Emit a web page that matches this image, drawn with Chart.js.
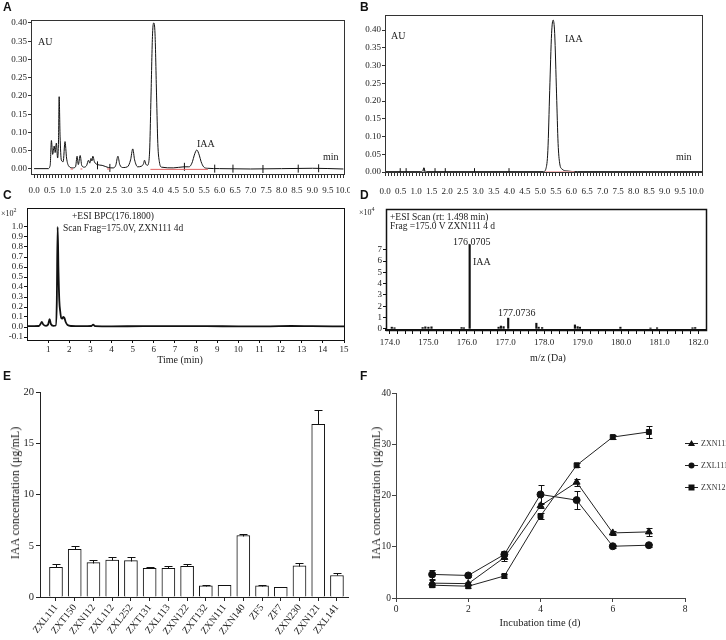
<!DOCTYPE html>
<html>
<head>
<meta charset="utf-8">
<script src="https://cdn.jsdelivr.net/npm/chart.js@4.4.1/dist/chart.umd.min.js"></script>
<style>
body{margin:0;width:726px;height:640px;position:relative;overflow:hidden;background:#fff}
canvas{position:absolute}
.t{position:absolute;font-family:"Liberation Serif",serif;white-space:nowrap;line-height:1;color:#222}
.t sup{font-size:6px}
.lt{position:absolute;font-family:"Liberation Sans",Arial,sans-serif;font-weight:bold;font-size:12px;line-height:12px;color:#111}
.mid{transform:translate(-50%,-50%)}
.rot{transform:translate(-50%,-50%) rotate(-90deg)}
</style>
</head>
<body>
<canvas id="cA" width="350" height="200" style="left:0;top:0"></canvas>
<canvas id="cB" width="371" height="200" style="left:355px;top:0"></canvas>
<canvas id="cC" width="352" height="180" style="left:0;top:195px"></canvas>
<canvas id="cD" width="371" height="180" style="left:355px;top:195px"></canvas>
<canvas id="cE" width="355" height="260" style="left:0;top:380px"></canvas>
<canvas id="cF" width="363" height="260" style="left:363px;top:380px"></canvas>

<div class="lt" style="left:3px;top:1px">A</div>
<div class="t" style="left:38px;top:37px;font-size:10px">AU</div>
<div class="t" style="left:197px;top:139px;font-size:10px">IAA</div>
<div class="t" style="left:323px;top:152px;font-size:10px">min</div>

<div class="lt" style="left:360px;top:1px">B</div>
<div class="t" style="left:391px;top:31px;font-size:10px">AU</div>
<div class="t" style="left:565px;top:34px;font-size:10px">IAA</div>
<div class="t" style="left:676px;top:152px;font-size:10px">min</div>

<div class="lt" style="left:3px;top:189px">C</div>
<div class="t" style="left:1px;top:207px;font-size:8px">×10<sup>2</sup></div>
<div class="t" style="left:72px;top:212px;font-size:9.5px">+ESI BPC(176.1800)</div>
<div class="t" style="left:63px;top:224px;font-size:9.5px">Scan Frag=175.0V, ZXN111 4d</div>
<div class="t mid" style="left:180px;top:360px;font-size:10px">Time (min)</div>

<div class="lt" style="left:360px;top:189px">D</div>
<div class="t" style="left:359px;top:206px;font-size:8px">×10<sup>4</sup></div>
<div class="t" style="left:390px;top:213px;font-size:9.5px">+ESI Scan (rt: 1.498 min)</div>
<div class="t" style="left:390px;top:222px;font-size:9.5px">Frag =175.0 V ZXN111 4 d</div>
<div class="t" style="left:453px;top:237px;font-size:10px">176.0705</div>
<div class="t" style="left:473px;top:257px;font-size:10px">IAA</div>
<div class="t" style="left:498px;top:308px;font-size:10px">177.0736</div>
<div class="t mid" style="left:548px;top:358px;font-size:10px">m/z (Da)</div>

<div class="lt" style="left:3px;top:370px">E</div>
<div class="t rot" style="left:15px;top:493px;font-size:12px">IAA concentration (μg/mL)</div>

<div class="lt" style="left:360px;top:370px">F</div>
<div class="t rot" style="left:376px;top:493px;font-size:12px">IAA concentration (μg/mL)</div>
<div class="t mid" style="left:540px;top:623px;font-size:10.5px">Incubation time (d)</div>

<script>
// A: HPLC trace of the culture extract
var aTime = [0, 0.45, 0.52, 0.56, 0.60, 0.65, 0.68, 0.72, 0.76, 0.79, 0.81, 0.84, 0.88, 0.94, 1.00, 1.05, 1.12, 1.25, 1.34, 1.39, 1.43, 1.49, 1.54, 1.62, 1.70, 1.76, 1.80, 1.84, 1.87, 1.90, 1.95, 2.05, 2.20, 2.40, 2.55, 2.64, 2.71, 2.77, 2.88, 3.02, 3.12, 3.19, 3.25, 3.35, 3.48, 3.54, 3.57, 3.61, 3.66, 3.70, 3.74, 3.78, 3.83, 3.87, 3.91, 3.96, 4.00, 4.05, 4.12, 4.50, 4.85, 5.00, 5.05, 5.12, 5.18, 5.26, 5.34, 5.40, 5.48, 5.60, 6.00, 7.00, 8.00, 9.00, 10.0];
var aAU = [0.001, 0.001, 0.010, 0.078, 0.040, 0.063, 0.045, 0.071, 0.030, 0.080, 0.198, 0.090, 0.025, 0.020, 0.075, 0.030, 0.008, 0.003, 0.006, 0.035, 0.012, 0.037, 0.010, 0.005, 0.010, 0.024, 0.016, 0.029, 0.022, 0.035, 0.020, 0.012, 0.010, 0.004, 0.003, 0.010, 0.035, 0.012, 0.004, 0.006, 0.025, 0.055, 0.025, 0.006, 0.008, 0.015, 0.024, 0.014, 0.010, 0.015, 0.060, 0.200, 0.370, 0.400, 0.370, 0.200, 0.070, 0.020, 0.005, 0.003, 0.006, 0.006, 0.008, 0.020, 0.038, 0.052, 0.038, 0.020, 0.006, 0.002, 0.001, 0.000, 0.001, 0.002, 0.000];
var aRedTime = [1.18, 1.26, 1.27, 1.50, 1.56, 1.57, 2.36, 2.46, 2.47, 3.76, 5.62];
var aRedAU = [0, 0, null, 0, 0, null, 0, 0, null, -0.001, -0.001];
var aMarkTime = [2.05, 2.45, 4.86, 5.84, 6.43, 7.40, 8.54, 9.20];
var aMarkAU = [0.010, 0.003, 0.006, 0.001, 0.001, 0.000, 0.001, 0.002];

// B: IAA standard
var bTime = [0, 1.15, 1.22, 1.25, 1.28, 1.35, 5.10, 5.18, 5.24, 5.30, 5.36, 5.41, 5.46, 5.52, 5.57, 5.62, 5.70, 5.85, 6.20, 10.2];
var bAU = [0.001, 0.001, 0.004, 0.012, 0.004, 0.001, 0.001, 0.010, 0.060, 0.230, 0.390, 0.428, 0.390, 0.220, 0.080, 0.025, 0.008, 0.003, 0.001, 0.001];
var bRedTime = [5.15, 6.10];
var bRedAU = [0, 0];
var bMarkTime = [0.49, 0.68, 1.26, 1.61, 1.94, 2.88, 3.99];
var bMarkAU = [0.001, 0.001, 0.001, 0.001, 0.001, 0.001, 0.001];

// C: base peak chromatogram (x10^2)
var cTime = [0, 0.55, 0.64, 0.70, 0.77, 0.90, 1.00, 1.07, 1.13, 1.25, 1.36, 1.41, 1.45, 1.49, 1.53, 1.57, 1.62, 1.67, 1.72, 1.77, 1.83, 1.92, 2.10, 2.60, 3.05, 3.13, 3.22, 4.00, 5.50, 7.00, 8.50, 10.0, 11.5, 12.5, 13.5, 15.0];
var cSignal = [0.008, 0.010, 0.030, 0.052, 0.025, 0.012, 0.025, 0.078, 0.030, 0.012, 0.015, 0.250, 1.000, 0.550, 0.260, 0.160, 0.090, 0.085, 0.100, 0.090, 0.050, 0.020, 0.010, 0.008, 0.010, 0.024, 0.009, 0.007, 0.008, 0.008, 0.009, 0.006, 0.007, 0.010, 0.008, 0.006];

// D: mass spectrum (x10^4)
var dMz = [174.05, 174.12, 174.85, 174.92, 175.00, 175.08, 175.86, 175.92, 176.07, 176.82, 176.88, 176.95, 177.07, 177.80, 177.86, 177.95, 178.80, 178.87, 178.93, 179.98, 180.76, 180.93, 181.85, 181.92];
var dIntensity = [0.15, 0.10, 0.12, 0.18, 0.15, 0.18, 0.12, 0.10, 7.45, 0.15, 0.25, 0.20, 0.95, 0.50, 0.15, 0.12, 0.35, 0.20, 0.15, 0.15, 0.08, 0.10, 0.10, 0.12];

// E: IAA produced by each strain
var eStrains = ['ZXL111', 'ZXT150', 'ZXN112', 'ZXL112', 'ZXL252', 'ZXT131', 'ZXL113', 'ZXN122', 'ZXT132', 'ZXN111', 'ZXN140', 'ZF5', 'ZF7', 'ZXN230', 'ZXN121', 'ZXL141'];
var eIAA = [2.9, 4.65, 3.35, 3.6, 3.55, 2.8, 2.8, 3.0, 1.1, 1.15, 6.0, 1.1, 0.95, 3.05, 16.85, 2.1];
var eErr = [0.35, 0.35, 0.3, 0.3, 0.4, 0.08, 0.2, 0.2, 0.05, 0.05, 0.15, 0.03, 0.03, 0.25, 1.35, 0.2];

// F: time course
var fDays = [1, 2, 3, 4, 5, 6, 7];
var fZXN111 = [2.9, 2.8, 7.9, 18.0, 22.6, 12.7, 12.9];
var fZXN111Err = [0.6, 0.3, 0.6, 0.5, 0.7, 0.4, 0.8];
var fZXL111 = [4.6, 4.4, 8.5, 20.2, 19.1, 10.1, 10.3];
var fZXL111Err = [0.8, 0.3, 0.7, 1.8, 1.7, 0.3, 0.3];
var fZXN121 = [2.5, 2.3, 4.3, 16.0, 25.9, 31.4, 32.4];
var fZXN121Err = [0.4, 0.3, 0.3, 0.6, 0.4, 0.4, 1.2];

// tick positions
var auTicks = [0, 0.05, 0.1, 0.15, 0.2, 0.25, 0.3, 0.35, 0.4];
var cYTicks = [-0.1, 0, 0.1, 0.2, 0.3, 0.4, 0.5, 0.6, 0.7, 0.8, 0.9, 1.0];
var cXTicks = [1, 2, 3, 4, 5, 6, 7, 8, 9, 10, 11, 12, 13, 14, 15];
var dYTicks = [0, 1, 2, 3, 4, 5, 6, 7];
var eYTicks = [0, 5, 10, 15, 20];
var fXTicks = [0, 2, 4, 6, 8];
var fYTicks = [0, 10, 20, 30, 40];

Chart.defaults.font.family = '"Liberation Serif", serif';
Chart.defaults.color = '#222';
Chart.defaults.animation = false;
Chart.defaults.responsive = false;
Chart.defaults.devicePixelRatio = 1;
Chart.defaults.plugins.legend.display = false;
Chart.defaults.plugins.tooltip.enabled = false;

function pairs(xs, ys) { return xs.map(function (x, i) { return { x: x, y: ys[i] }; }); }
function steps(a, b, s) { var out = []; for (var v = a; v <= b + s / 2; v += s) out.push(Math.round(v * 100) / 100); return out; }
function fitX(h) { return function (s) { s.height = h; s.paddingLeft = 0; s.paddingRight = 0; }; }
function fitY(w) { return function (s) { s.width = w; s.paddingTop = 0; s.paddingBottom = 0; }; }
function useTicks(list) { return function (s) { s.ticks = list.map(function (v) { return { value: v }; }); }; }
function halfLabel(v) { var k = Math.round(v * 10); return k % 5 === 0 ? (k / 10).toFixed(1) : ''; }

function axis(o) {
  return {
    type: 'linear', bounds: 'data', offset: false, min: o.min, max: o.max,
    afterBuildTicks: useTicks(o.ticks),
    afterFit: o.x ? fitX(o.size) : fitY(o.size),
    grid: { drawOnChartArea: false, offset: false, tickLength: o.tick || 4, color: o.color || '#333', lineWidth: 1 },
    border: { color: o.color || '#333', width: o.border || 1 },
    ticks: { autoSkip: false, maxRotation: o.rot || 0, minRotation: o.rot || 0, padding: o.pad || 0, font: { size: o.font || 9 }, color: '#222', callback: o.label }
  };
}

var frame = {
  id: 'frame',
  afterDatasetsDraw: function (chart, args, opts) {
    var a = chart.chartArea, ctx = chart.ctx;
    ctx.save();
    ctx.strokeStyle = opts.color || '#333';
    ctx.lineWidth = opts.width || 1;
    ctx.strokeRect(Math.round(a.left) + 0.5, Math.round(a.top) + 0.5, Math.round(a.right - a.left), Math.round(a.bottom - a.top));
    ctx.restore();
  }
};

var errBars = {
  id: 'errBars',
  afterDatasetsDraw: function (chart, args, opts) {
    var ctx = chart.ctx, xs = chart.scales.x, ys = chart.scales.y;
    ctx.save();
    ctx.strokeStyle = '#111';
    ctx.lineWidth = 1;
    chart.data.datasets.forEach(function (ds) {
      if (!ds.errors) return;
      ds.data.forEach(function (p, i) {
        var e = ds.errors[i];
        var x = Math.round(xs.getPixelForValue(p.x)) + 0.5;
        var lo = Math.round(ys.getPixelForValue(opts.upOnly ? p.y : p.y - e)) + 0.5;
        var hi = Math.round(ys.getPixelForValue(p.y + e)) + 0.5;
        ctx.beginPath();
        ctx.moveTo(x, lo); ctx.lineTo(x, hi);
        ctx.moveTo(x - opts.cap, hi); ctx.lineTo(x + opts.cap, hi);
        if (!opts.upOnly) { ctx.moveTo(x - opts.cap, lo); ctx.lineTo(x + opts.cap, lo); }
        ctx.stroke();
      });
    });
    ctx.restore();
  }
};

// legend to the right of panel F, cut by the page edge like the original
var sideLegend = {
  id: 'sideLegend',
  afterDraw: function (chart) {
    var ctx = chart.ctx;
    chart.data.datasets.forEach(function (ds, i) {
      var y = 63.5 + i * 22, x = 328.5;
      ctx.save();
      ctx.strokeStyle = '#222'; ctx.fillStyle = '#111'; ctx.lineWidth = 1;
      ctx.beginPath(); ctx.moveTo(322, y); ctx.lineTo(335, y); ctx.stroke();
      ctx.beginPath();
      if (ds.pointStyle === 'triangle') { ctx.moveTo(x, y - 3.5); ctx.lineTo(x + 3.5, y + 2.5); ctx.lineTo(x - 3.5, y + 2.5); ctx.closePath(); }
      else if (ds.pointStyle === 'rect') { ctx.rect(x - 3, y - 3, 6, 6); }
      else { ctx.arc(x, y, 3, 0, Math.PI * 2); }
      ctx.fill();
      ctx.font = '8px "Liberation Serif"';
      ctx.fillStyle = '#333';
      ctx.textBaseline = 'middle';
      ctx.fillText(ds.label, 338, y);
      ctx.restore();
    });
  }
};

function trace(xs, ys, color, width) {
  return { data: pairs(xs, ys), borderColor: color, borderWidth: width, pointRadius: 0, cubicInterpolationMode: 'monotone', spanGaps: false };
}
function marks(xs, ys, r) {
  return { data: pairs(xs, ys), showLine: false, pointStyle: 'line', rotation: 90, pointRadius: r, borderColor: '#111', borderWidth: 1 };
}

new Chart(document.getElementById('cA'), {
  type: 'line',
  data: { datasets: [
    trace(aRedTime, aRedAU, '#e06060', 1),
    trace(aTime, aAU, '#111', 1),
    marks(aMarkTime, aMarkAU, 4)
  ] },
  options: {
    layout: { padding: { top: 20, right: 6, left: 0, bottom: 0 } },
    scales: {
      x: axis({ x: true, size: 26, min: -0.1, max: 10.02, ticks: steps(0, 10, 0.1), tick: 4, pad: 7, label: halfLabel }),
      y: axis({ size: 31, min: -0.0137, max: 0.408, ticks: auTicks, tick: 3, pad: 1, label: function (v) { return v.toFixed(2); } })
    },
    plugins: { frame: { color: '#333', width: 1 } }
  },
  plugins: [frame]
});

new Chart(document.getElementById('cB'), {
  type: 'line',
  data: { datasets: [
    trace(bRedTime, bRedAU, '#f0a0a0', 1.5),
    trace(bTime, bAU, '#111', 1),
    marks(bMarkTime, bMarkAU, 3.5)
  ] },
  options: {
    layout: { padding: { top: 15, right: 24, left: 0, bottom: 0 } },
    scales: {
      x: axis({ x: true, size: 28, min: 0, max: 10.2, ticks: steps(0, 10.2, 0.1), tick: 4, pad: 10, label: halfLabel }),
      y: axis({ size: 30, min: 0, max: 0.4423, ticks: auTicks, tick: 3, pad: 1, label: function (v) { return v.toFixed(2); } })
    },
    plugins: { frame: { color: '#333', width: 1 } }
  },
  plugins: [frame]
});

new Chart(document.getElementById('cC'), {
  type: 'line',
  data: { datasets: [ trace(cTime, cSignal, '#111', 1.8) ] },
  options: {
    layout: { padding: { top: 13, right: 8, left: 0, bottom: 0 } },
    scales: {
      x: axis({ x: true, size: 35, min: 0, max: 15, ticks: cXTicks, tick: 3, pad: 1, color: '#111', label: function (v) { return String(v); } }),
      y: axis({ size: 27, min: -0.13, max: 1.19, ticks: cYTicks, tick: 3, pad: 1, color: '#111', label: function (v) { return v.toFixed(1); } })
    },
    plugins: { frame: { color: '#111', width: 1 } }
  },
  plugins: [frame]
});

new Chart(document.getElementById('cD'), {
  type: 'bar',
  data: { datasets: [ { data: pairs(dMz, dIntensity), backgroundColor: '#111', borderWidth: 0, barThickness: 1.5 } ] },
  options: {
    layout: { padding: { top: 14, right: 20, left: 0, bottom: 0 } },
    scales: {
      x: axis({ x: true, size: 45, min: 173.9, max: 182.2, ticks: steps(174, 182, 0.2), tick: 4, pad: 3, color: '#111', border: 2,
        label: function (v) { return Math.abs(v - Math.round(v)) < 0.01 ? v.toFixed(1) : ''; } }),
      y: axis({ size: 31, min: -0.1, max: 10.6, ticks: dYTicks, tick: 3, pad: 1, color: '#111', label: function (v) { return String(v); } })
    },
    plugins: { frame: { color: '#111', width: 1.5 } }
  },
  plugins: [frame]
});

new Chart(document.getElementById('cE'), {
  type: 'bar',
  data: { datasets: [ {
    data: eStrains.map(function (s, i) { return { x: i, y: eIAA[i] }; }),
    errors: eErr,
    backgroundColor: '#fff', borderColor: '#111', borderWidth: 1, barThickness: 13
  } ] },
  options: {
    layout: { padding: { top: 12, right: 7, left: 0, bottom: 0 } },
    scales: {
      x: axis({ x: true, size: 43, min: -0.854, max: 15.59, ticks: eStrains.map(function (s, i) { return i; }), tick: 4, pad: 1, rot: 52, font: 10, color: '#222',
        label: function (v) { return eStrains[v]; } }),
      y: axis({ size: 40, min: 0, max: 20, ticks: eYTicks, tick: 4, pad: 2, font: 10.5, color: '#222', label: function (v) { return String(v); } })
    },
    plugins: { errBars: { upOnly: true, cap: 4 } }
  },
  plugins: [errBars]
});

function series(label, ys, errs, style) {
  return { label: label, data: pairs(fDays, ys), errors: errs, pointStyle: style, pointRadius: style === 'triangle' ? 4 : 3.5,
    borderColor: '#222', backgroundColor: '#111', pointBackgroundColor: '#111', pointBorderColor: '#111', borderWidth: 1, tension: 0 };
}

new Chart(document.getElementById('cF'), {
  type: 'line',
  data: { datasets: [
    series('ZXN111', fZXN111, fZXN111Err, 'triangle'),
    series('ZXL111', fZXL111, fZXL111Err, 'circle'),
    series('ZXN121', fZXN121, fZXN121Err, 'rect')
  ] },
  options: {
    layout: { padding: { top: 13, right: 41, left: 0, bottom: 0 } },
    scales: {
      x: axis({ x: true, size: 42, min: 0, max: 8, ticks: fXTicks, tick: 4, pad: 2, font: 9.5, color: '#444', label: function (v) { return String(v); } }),
      y: axis({ size: 33, min: 0, max: 40, ticks: fYTicks, tick: 4, pad: 1, font: 9.5, color: '#444', label: function (v) { return String(v); } })
    },
    plugins: { errBars: { upOnly: false, cap: 3 } }
  },
  plugins: [errBars, sideLegend]
});
</script>
</body>
</html>
